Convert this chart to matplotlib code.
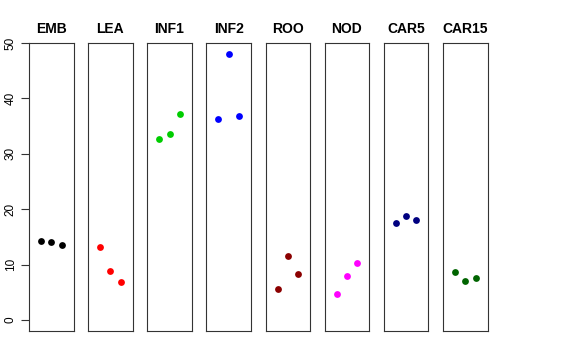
import numpy as np
import matplotlib
matplotlib.use('Agg')
import matplotlib.pyplot as plt

plt.rcParams['font.family'] = ['Liberation Sans', 'DejaVu Sans']

# tissue groups and their three replicate values
groups = ['EMB', 'LEA', 'INF1', 'INF2', 'ROO', 'NOD', 'CAR5', 'CAR15']
emb = [14.26, 14.08, 13.47]
lea = [13.18, 8.84, 6.97]
inf1 = [32.6, 33.5, 37.18]
inf2 = [36.2, 48.1, 36.8]
roo = [5.6, 11.55, 8.3]
nod = [4.69, 8.05, 10.34]
car5 = [17.5, 18.7, 17.98]
car15 = [8.6, 7.15, 7.58]
values = [emb, lea, inf1, inf2, roo, nod, car5, car15]
colors = ['black', 'red', '#00CD00', 'blue', '#8B0000', 'magenta', '#000080', '#006400']
yticks = [0, 10, 20, 30, 40, 50]

W, H = 576, 360
fig = plt.figure(figsize=(W / 100, H / 100), dpi=100)

left0 = 29
step = 59.15
pw = 44.5
top, bottom = 43, 331

for i, (g, v, c) in enumerate(zip(groups, values, colors)):
    x0 = left0 + i * step
    ax = fig.add_axes([x0 / W, 1 - bottom / H, pw / W, (bottom - top) / H])
    ax.plot([1, 2, 3], v, 'o', color=c, markersize=4.9, markeredgewidth=0)
    ax.set_xlim(-0.16, 4.16)
    ax.set_ylim(-1.96, 50)
    ax.set_xticks([])
    for s in ax.spines.values():
        s.set_linewidth(0.8)
        s.set_color('#333333')
    ax.set_title(g, fontsize=10, fontweight='bold', pad=7.5)
    if i == 0:
        ax.set_yticks(yticks)
        ax.set_yticklabels([str(t) for t in yticks], rotation=90, va='center', fontsize=8.5)
        ax.tick_params(axis='y', length=5.8, width=0.8, pad=3, colors='#333333', labelcolor='black')
    else:
        ax.set_yticks([])

fig.savefig('out.png', dpi=100)
